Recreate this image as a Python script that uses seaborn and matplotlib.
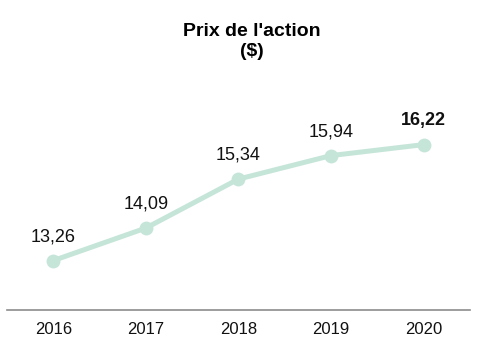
import pandas as pd
import matplotlib.pyplot as plt
import seaborn as sns

annees = ['2016', '2017', '2018', '2019', '2020']
prix = [13.26, 14.09, 15.34, 15.94, 16.22]

df = pd.DataFrame({'Annee': annees, 'Prix': prix})

sns.set_style('white')
plt.rcParams['font.family'] = ['Liberation Sans', 'DejaVu Sans']

fig = plt.figure(figsize=(5.03, 3.55), dpi=100)
ax = fig.add_axes([0.014, 0.127, 0.92, 0.662])

couleur = '#c6e5d9'
sns.lineplot(data=df, x='Annee', y='Prix', ax=ax, color=couleur, linewidth=3.6,
             marker='o', markersize=10, markeredgewidth=0, sort=False)

for i, (a, p) in enumerate(zip(annees, prix)):
    txt = f'{p:.2f}'.replace('.', ',')
    ax.annotate(txt, (i, p), xytext=(0, 11), textcoords='offset points',
                ha='center', va='bottom', fontsize=13, color='#111111',
                fontweight='bold' if i == len(annees) - 1 else 'normal')

ax.set_xlim(-0.5, 4.5)
ax.set_ylim(12, 18)
ax.set_yticks([])
ax.set_xlabel('')
ax.set_ylabel('')
for s in ['top', 'right', 'left']:
    ax.spines[s].set_visible(False)
ax.spines['bottom'].set_color('#8c8c8c')
ax.spines['bottom'].set_linewidth(1.2)
ax.tick_params(axis='x', length=0, pad=9, labelsize=12, labelcolor='#111111')

fig.text(0.5, 0.912, "Prix de l'action", ha='center', va='center',
         fontsize=14, fontweight='bold', color='black')
fig.text(0.5, 0.855, '($)', ha='center', va='center',
         fontsize=14, fontweight='bold', color='black')

fig.savefig('out.png', dpi=100)
